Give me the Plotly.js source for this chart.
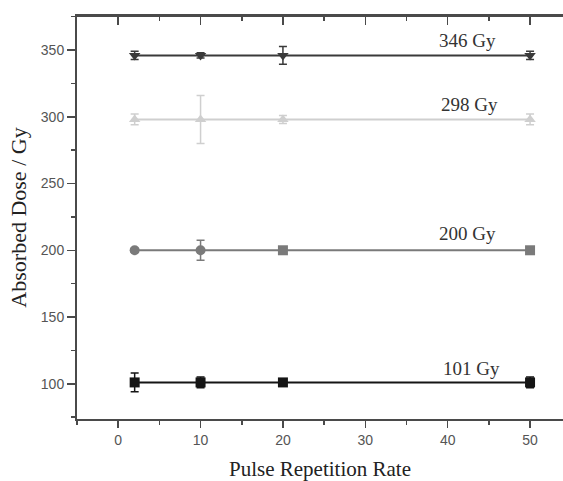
<!DOCTYPE html>
<html>
<head>
<meta charset="utf-8">
<script src="https://cdn.plot.ly/plotly-3.0.1.min.js"></script>
<style>html,body{margin:0;padding:0;background:#fff;}#chart{width:563px;height:481px;}</style>
</head>
<body>
<div id="chart"></div>
<script>
// Data
const rates = [2, 10, 20, 50];
const dose346 = [346, 346, 346, 346];
const err346 = [3, 2, 6.6, 3];
const dose298 = [298, 298, 298, 298];
const err298 = [4, 18, 3, 4];
const dose200 = [200, 200, 200, 200];
const err200 = [1.5, 7.5, 1.5, 1.5];
const dose101 = [101, 101, 101, 101];
const err101 = [7, 4, 1, 4];
const seriesLabels = ['346 Gy', '298 Gy', '200 Gy', '101 Gy'];

function series(y, err, color, symbol) {
  return {
    x: rates, y: y, type: 'scatter', mode: 'lines+markers',
    line: {color: color, width: 2},
    marker: {color: color, symbol: symbol, size: 10},
    error_y: {type: 'data', array: err, visible: true, color: color, thickness: 1.5, width: 4},
    showlegend: false, hoverinfo: 'skip'
  };
}

const traces = [
  series(dose346, err346, '#3a3a3a', 'triangle-down'),
  series(dose298, err298, '#cfcfcf', 'triangle-up'),
  series(dose200, err200, '#7a7a7a', ['circle', 'circle', 'square', 'square']),
  series(dose101, err101, '#151515', 'square'),
  // carrier for the top frame axis; draws nothing
  {x: rates, y: dose101, xaxis: 'x2', yaxis: 'y', type: 'scatter', mode: 'none', showlegend: false, hoverinfo: 'skip'}
];

const labelPos = [[42.4, 357.5], [42.7, 309.3], [42.4, 212.5], [42.9, 111.5]];
const annotations = seriesLabels.map((t, i) => ({
  x: labelPos[i][0], y: labelPos[i][1], xref: 'x', yref: 'y', text: t,
  showarrow: false, font: {family: 'Liberation Serif, Times New Roman, serif', size: 19, color: '#333'}
}));

const axisColor = '#4a4a4a';
const layout = {
  width: 563, height: 481,
  margin: {l: 77, r: 0, t: 16, b: 62},
  showlegend: false,
  xaxis: {
    range: [-5, 54], dtick: 10, tick0: 0, showgrid: false, zeroline: false,
    showline: true, linecolor: axisColor, linewidth: 2,
    ticks: 'outside', ticklen: 7, tickwidth: 1.5, tickcolor: axisColor,
    minor: {dtick: 5, ticks: 'outside', ticklen: 4, tickwidth: 1.5, tickcolor: axisColor},
    tickfont: {family: 'Liberation Sans, Arial, sans-serif', size: 14, color: '#555'},
    title: {text: 'Pulse Repetition Rate', standoff: 18,
            font: {family: 'Liberation Serif, Times New Roman, serif', size: 21, color: '#222'}}
  },
  xaxis2: {
    overlaying: 'x', side: 'top', anchor: 'y', range: [-5, 54], dtick: 10, tick0: 0,
    showgrid: false, zeroline: false, showticklabels: false,
    showline: true, linecolor: axisColor, linewidth: 2,
    ticks: 'inside', ticklen: 9, tickwidth: 1.5, tickcolor: axisColor,
    minor: {dtick: 5, ticks: 'inside', ticklen: 5, tickwidth: 1.5, tickcolor: axisColor}
  },
  yaxis: {
    range: [73.6, 375.5], dtick: 50, tick0: 0, showgrid: false, zeroline: false,
    showline: true, linecolor: axisColor, linewidth: 2,
    ticks: 'outside', ticklen: 8, tickwidth: 1.5, tickcolor: axisColor,
    minor: {dtick: 25, ticks: 'outside', ticklen: 4, tickwidth: 1.5, tickcolor: axisColor},
    tickfont: {family: 'Liberation Sans, Arial, sans-serif', size: 14, color: '#555'},
    title: {text: 'Absorbed Dose / Gy', standoff: 8,
            font: {family: 'Liberation Serif, Times New Roman, serif', size: 22, color: '#222'}}
  },
  shapes: [{type: 'line', xref: 'paper', yref: 'paper', x0: 0, x1: 1, y0: 1, y1: 1,
            line: {color: axisColor, width: 2}}],
  annotations: annotations
};

Plotly.newPlot('chart', traces, layout, {staticPlot: true, displayModeBar: false});
</script>
</body>
</html>
